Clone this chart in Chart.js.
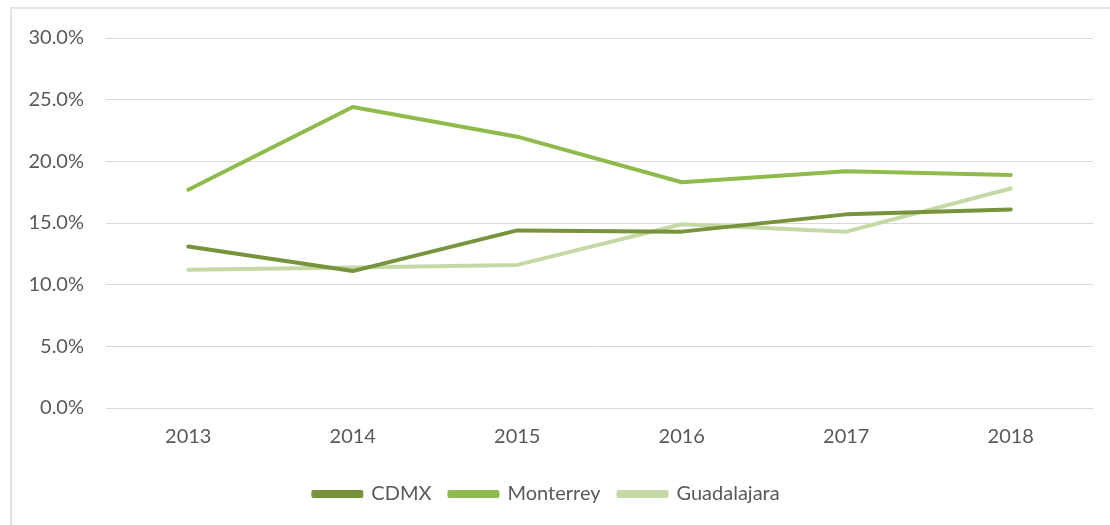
<!DOCTYPE html>
<html>
<head>
<meta charset="utf-8">
<script src="https://cdn.jsdelivr.net/npm/chart.js@4.4.1/dist/chart.umd.min.js"></script>
<style>
  html, body { margin: 0; padding: 0; background: #ffffff; }
  #wrap { position: relative; width: 1110px; height: 525px; overflow: hidden; }
  #frame { position: absolute; left: 10px; top: 7px; width: 1120px; height: 540px;
           border-left: 2px solid #e3e3e3; border-top: 2px solid #e3e3e3; box-sizing: border-box; }
  canvas { position: absolute; left: 0; top: 0; }
</style>
</head>
<body>
<div id="wrap">
  <div id="frame"></div>
  <canvas id="c" width="1110" height="525"></canvas>
</div>
<script>
const years = ['2013', '2014', '2015', '2016', '2017', '2018'];
const cdmx = [13.1, 11.1, 14.4, 14.3, 15.7, 16.1];
const monterrey = [17.7, 24.4, 22.0, 18.3, 19.2, 18.9];
const guadalajara = [11.2, 11.4, 11.6, 14.9, 14.3, 17.8];
const seriesNames = ['CDMX', 'Monterrey', 'Guadalajara'];
const yTicks = [0, 5, 10, 15, 20, 25, 30];

const colors = ['#77933c', '#8fba4c', '#c5d9a7'];
const FONT = 'Lato, "Open Sans", sans-serif';
const TEXT = '#595959';

function ds(label, data, color) {
  return {
    label, data,
    borderColor: color, backgroundColor: color,
    borderWidth: 4, pointRadius: 0, pointHoverRadius: 0,
    tension: 0, borderCapStyle: 'round', borderJoinStyle: 'round', fill: false
  };
}

new Chart(document.getElementById('c'), {
  type: 'line',
  data: {
    labels: years,
    datasets: [
      ds(seriesNames[0], cdmx, colors[0]),
      ds(seriesNames[1], monterrey, colors[1]),
      ds(seriesNames[2], guadalajara, colors[2])
    ]
  },
  options: {
    responsive: false,
    animation: false,
    events: [],
    layout: { padding: { left: 0, right: 17, top: 38, bottom: 11 } },
    plugins: {
      tooltip: { enabled: false },
      legend: {
        position: 'bottom',
        labels: {
          font: { family: FONT, size: 20 },
          color: TEXT,
          boxWidth: 48,
          boxHeight: 4,
          padding: 18
        }
      }
    },
    scales: {
      x: {
        offset: true,
        grid: { display: false, drawTicks: false },
        border: { display: false },
        ticks: { font: { family: FONT, size: 20 }, color: TEXT, padding: 17 },
        afterFit: s => { s.height = 58; }
      },
      y: {
        min: 0, max: 30,
        afterBuildTicks: s => { s.ticks = yTicks.map(v => ({ value: v })); },
        grid: { color: '#d9d9d9', lineWidth: 1, drawTicks: false },
        border: { display: false },
        ticks: {
          font: { family: FONT, size: 20 }, color: TEXT, padding: 22,
          callback: v => v.toFixed(1) + '%'
        },
        afterFit: s => { s.width = 106; }
      }
    }
  }
});
</script>
</body>
</html>
